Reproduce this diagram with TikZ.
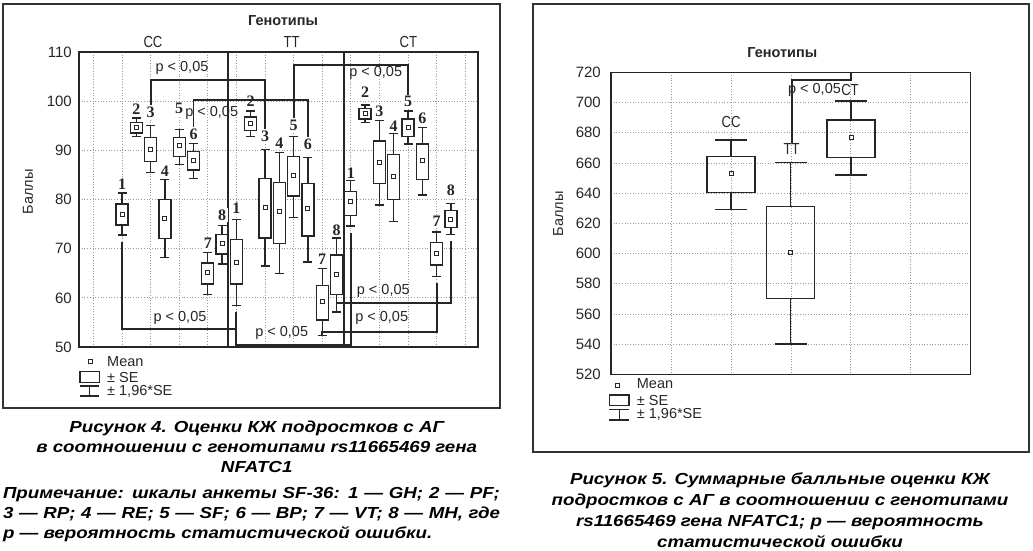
\documentclass[tikz,border=0pt]{standalone}
\usepackage{fontspec}
\setmainfont{Liberation Sans}
\newfontfamily\numfont{Liberation Serif}
\newfontfamily\capfont[FakeStretch=1.17]{Liberation Sans}
\usetikzlibrary{positioning}
\hyphenpenalty=10000
\exhyphenpenalty=10000

\begin{document}
\begin{tikzpicture}[x=1pt, y=-1pt,
    panel/.style={draw=black!80, line width=1.2pt},
    plotframe/.style={draw=black!85, line width=1.5pt},
    gridline/.style={draw=black!40, dotted, line width=0.7pt},
    boxline/.style={draw=black!85, line width=1.3pt},
    bracket/.style={draw=black!85, line width=1.9pt},
    meanmark/.style={draw=black!85, line width=0.9pt, minimum size=4pt, inner sep=0pt},
    txt/.style={font=\fontsize{14.5}{16}\selectfont, text=black!85, inner sep=0pt},
    ylab/.style={font=\fontsize{15}{17}\selectfont, text=black!85, inner sep=0pt, anchor=east},
    scalelab/.style={font=\numfont\bfseries\fontsize{16}{18}\selectfont, text=black!85, inner sep=1.5pt},
    grouplab/.style={font=\fontsize{16}{18}\selectfont, text=black!85, inner sep=0pt, xscale=0.82},
    title/.style={font=\bfseries\fontsize{14.5}{16}\selectfont, text=black!85, inner sep=0pt},
    caption/.style={font=\capfont\bfseries\itshape\fontsize{16}{20}\selectfont, align=center, inner sep=0pt},
  ]
\useasboundingbox (0,0) rectangle (1033,550);

% left panel
\draw[panel] (3,4) rectangle (500,408);
\foreach \k in {0,...,13}
  \draw[gridline] ({93.4+28.6*\k},52) -- ({93.4+28.6*\k},347);
\foreach \v in {60,70,80,90,100}
  \draw[gridline] (79,{347-(\v-50)*4.917}) -- (478,{347-(\v-50)*4.917});
\foreach \v in {50,60,...,110}
  \node[ylab] at (72,{347-(\v-50)*4.917}) {\v};
\draw[plotframe] (79,52) rectangle (478,347);
\draw[boxline] (228,52) -- (228,347) (344,52) -- (344,347);
\node[title] (gen1) at (283,20.7) {Генотипы};
\node[grouplab] (cc) at (153,41.7) {CC};
\node[grouplab] (tt) at (291.7,41.7) {TT};
\node[grouplab] (ct) at (408.3,41.7) {CT};
\node[txt, rotate=90] (ball1) at (28,192) {Баллы};

\begin{scope}[shift={(0,592.85)}, y=4.917pt]
  \foreach \j/\wt/\bt/\m/\bb/\wb/\lab/\nm/\num in {
      0/81.3/79.1/77.0/74.8/72.8/83.2/cc1/1, 1/96.6/95.6/94.6/93.5/92.8/98.4/cc2/2,
      2/95.0/92.6/90.2/87.7/85.5/97.7/cc3/3, 3/84.0/80.0/76.2/72.1/68.2/85.7/cc4/4,
      4/94.3/92.6/91.0/88.8/87.1/98.5/cc5/5, 5/91.4/89.7/88.0/86.0/84.2/93.3/cc6/6,
      6/69.2/67.1/65.1/62.8/60.7/71.1/cc7/7, 7/74.7/72.9/71.1/68.9/66.9/76.8/cc8/8,
      8/76.0/71.8/67.1/62.8/58.5/78.2/tt1/1, 9/98.0/96.8/95.5/94.0/92.8/99.9/tt2/2,
      10/90.2/84.3/78.4/72.2/66.5/92.8/tt3/3, 11/89.6/83.5/77.5/71.1/65.0/91.5/tt4/4,
      12/92.8/88.8/84.8/80.7/76.4/95.1/tt5/5, 13/88.6/83.3/78.1/72.6/67.3/91.3/tt6/6,
      14/66.0/62.5/59.2/55.5/52.3/67.8/tt7/7, 15/72.2/68.7/64.8/60.7/57.1/73.7/tt8/8,
      16/83.8/81.6/79.6/76.8/74.6/85.3/ct1/1, 17/99.2/98.5/97.4/96.4/95.6/101.9/ct2/2,
      18/96.0/91.9/87.5/83.2/78.9/98.0/ct3/3, 19/93.4/89.2/84.6/80.0/75.5/94.9/ct4/4,
      20/98.0/96.4/94.6/92.8/91.3/99.9/ct5/5, 21/94.7/91.3/87.9/84.1/80.9/96.5/ct6/6,
      22/73.4/71.3/69.1/66.7/64.4/75.5/ct7/7, 23/79.2/77.7/76.0/74.3/72.9/81.9/ct8/8} {
    \pgfmathsetmacro{\x}{122+14.3*\j}
    \draw[boxline, fill=white] ({\x-6},\bt) rectangle ({\x+6},\bb);
    \draw[boxline] (\x,\bt) -- (\x,\wt) ({\x-4.5},\wt) -- ({\x+4.5},\wt)
      (\x,\bb) -- (\x,\wb) ({\x-4.5},\wb) -- ({\x+4.5},\wb);
    \node[meanmark] at (\x,\m) {};
    \node[scalelab, fill=white] (\nm) at (\x,\lab) {\num};
    \coordinate (\nm-wb) at (\x,\wb);
    \coordinate (\nm-lo) at (\x,{\wb-1.4});
  }
\end{scope}

% brackets, left panel
\draw[bracket] (cc3.north) -- ++(0,-25.1) -| (tt3.north);
\draw[bracket] (cc6.north) -- ++(0,-27.1) -| (tt6.north);
\draw[bracket] (tt5.north) -- ++(0,-53.1) -| (ct5.north);
\draw[bracket] (cc1-lo) -- ++(0,87.5) -| (tt1-lo);
\draw[bracket] (tt1-lo) -- ++(0,32.9) -| (ct1-lo);
\draw[bracket] (ct7-lo) -- ++(0,48.6) -| (tt7-wb);
\draw[bracket] (ct8-lo) -- ++(0,61.4) -| (tt8-wb);
\node[txt] (p1) at (182,68.3) {p < 0,05};
\node[txt] (p2) at (211.7,112.7) {p < 0,05};
\node[txt] (p3) at (375.7,73.3) {p < 0,05};
\node[txt] (p4) at (180,318.3) {p < 0,05};
\node[txt] (p5) at (281.7,332.7) {p < 0,05};
\node[txt] (p6) at (381.7,318.3) {p < 0,05};
\node[txt] (p7) at (383.3,290.7) {p < 0,05};

% legend, left panel
\node[meanmark] (mean1) at (90,361.7) {};
\node[txt, anchor=west] at (107,361.7) {Mean};
\draw[boxline] (80,371.7) rectangle (99.3,382.7);
\node[txt, anchor=west] at (107,377) {± SE};
\draw[boxline] (80,386) -- (99.3,386) (89.7,386) -- (89.7,396) (80,396) -- (99.3,396);
\node[txt, anchor=west] at (107,391.7) {± 1,96*SE};

\node[caption] (cap4) at (256.7,446.7) {Рисунок 4. Оценки КЖ подростков с АГ\\в соотношении с генотипами rs11665469 гена\\NFATC1};
\node[caption, align=justify, text width=497pt] (note4) at (251.5,515)
  {Примечание: шкалы анкеты SF-36: 1 — GH; 2 — PF;\linebreak 3 — RP; 4 — RE; 5 — SF; 6 — BP; 7 — VT; 8 — MH, где\linebreak р — вероятность статистической ошибки.};

% right panel
\draw[panel] (533,4) rectangle (1029,452);
\foreach \k in {1,...,5}
  \draw[gridline] ({611+59.95*\k},72.3) -- ({611+59.95*\k},374.3);
\foreach \v in {540,560,...,700}
  \draw[gridline] (611,{374.3-(\v-520)*1.51}) -- (970.7,{374.3-(\v-520)*1.51});
\foreach \v in {520,540,...,720}
  \node[ylab] at (601,{374.3-(\v-520)*1.51}) {\v};
\draw[plotframe] (611,72.3) rectangle (970.7,374.3);
\node[title] (gen2) at (782.3,52.3) {Генотипы};
\node[txt, rotate=90] (ball2) at (558.3,214) {Баллы};

\begin{scope}[shift={(0,1159.5)}, y=1.51pt]
  \foreach \x/\wt/\bt/\m/\bb/\wb in {731/675.2/664.1/653.1/640.5/629.3,
      790.7/660.1/631.0/600.5/570.3/540.1, 851/701/688.4/676.7/663.4/652} {
    \draw[boxline] ({\x-24},\bt) rectangle ({\x+24},\bb);
    \draw[boxline] (\x,\bt) -- (\x,\wt) ({\x-16},\wt) -- ({\x+16},\wt)
      (\x,\bb) -- (\x,\wb) ({\x-16},\wb) -- ({\x+16},\wb);
    \node[meanmark] at (\x,\m) {};
  }
  \coordinate (ct-top) at (851,720);
\end{scope}
\node[grouplab] (cc2) at (731,121.7) {CC};
\node[grouplab] (tt2) at (791.7,149) {TT};
\node[grouplab] (ct2) at (850,90) {CT};
\draw[bracket] (tt2.north) -- ++(0,-63.3) -| (ct-top);
\node[txt] (p8) at (814.5,90) {p < 0,05};

% legend, right panel
\node[meanmark] (mean2) at (617.7,385.7) {};
\node[txt, anchor=west] at (636.7,384) {Mean};
\draw[boxline] (609.3,395) rectangle (629,405.7);
\node[txt, anchor=west] at (636.7,400) {± SE};
\draw[boxline] (609.3,409.3) -- (629,409.3) (619.2,409.3) -- (619.2,420) (609.3,420) -- (629,420);
\node[txt, anchor=west] at (636.7,414.3) {± 1,96*SE};

\node[caption, font=\capfont\bfseries\itshape\fontsize{16}{21}\selectfont] (cap5) at (780,510)
  {Рисунок 5. Суммарные балльные оценки КЖ\\подростков с АГ в соотношении с генотипами\\rs11665469 гена NFATC1; р — вероятность\\статистической ошибки};
\end{tikzpicture}
\end{document}
